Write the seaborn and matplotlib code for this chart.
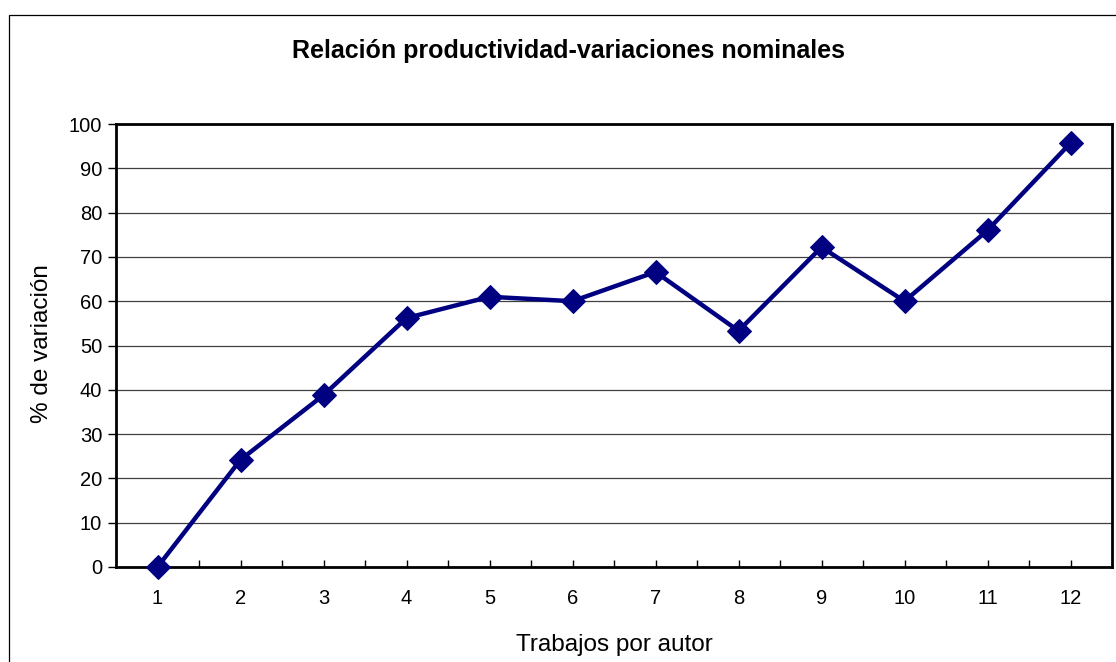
import numpy as np
import pandas as pd
import seaborn as sns
import matplotlib
import matplotlib.pyplot as plt
from matplotlib.patches import Rectangle
from matplotlib.ticker import MultipleLocator

matplotlib.use("Agg")

trabajos = [1, 2, 3, 4, 5, 6, 7, 8, 9, 10, 11, 12]
variacion = [0, 24.2, 38.8, 56.2, 61.0, 60.0, 66.6, 53.3, 72.2, 60.0, 76.0, 95.7]

df = pd.DataFrame({"Trabajos": trabajos, "Variacion": variacion})

sns.set_style("white")
plt.rcParams["font.family"] = ["Liberation Sans", "DejaVu Sans"]
plt.rcParams["text.color"] = "black"
plt.rcParams["axes.labelcolor"] = "black"

fig = plt.figure(figsize=(11.16, 6.62), dpi=100)
ax = fig.add_axes([116 / 1116, 1 - 567 / 662, (1112 - 116) / 1116, (567 - 124) / 662])

# outer chart frame (cut off at right/bottom like the original)
fig.patches.append(
    Rectangle((9 / 1116, -0.1), 1.2, 1 - 15 / 662 + 0.1,
              transform=fig.transFigure, fill=False, edgecolor="black", linewidth=0.9)
)

ax.set_ylim(0, 100)
ax.set_xlim(0.5, 12.5)
ax.yaxis.set_major_locator(MultipleLocator(10))
ax.grid(axis="y", color="#404040", linewidth=0.9)
ax.set_axisbelow(True)

sns.lineplot(data=df, x="Trabajos", y="Variacion", ax=ax, color="#000080",
             linewidth=3.2, marker="D", markersize=12, markeredgecolor="#000080",
             clip_on=False, zorder=5)

ax.set_xticks(trabajos)
ax.set_xticks([t + 0.5 for t in trabajos[:-1]], minor=True)
ax.tick_params(axis="x", which="both", direction="in", length=5, width=1,
               colors="black", labelsize=14.5, pad=16, bottom=True)
ax.tick_params(axis="y", direction="out", length=6, width=1, colors="black",
               labelsize=14.5, pad=4, left=True)

for side in ["left", "bottom", "top", "right"]:
    ax.spines[side].set_color("black")
    ax.spines[side].set_linewidth(2)

ax.set_xlabel("")
ax.set_ylabel("")
fig.text(614 / 1116, 1 - 645 / 662, "Trabajos por autor",
         ha="center", va="center", fontsize=17.5)
fig.text(42 / 1116, 1 - 344 / 662, "% de variación",
         ha="center", va="center", rotation=90, fontsize=17.5)
fig.text(568 / 1116, 1 - 51 / 662, "Relación productividad-variaciones nominales",
         ha="center", va="center", fontsize=18, fontweight="bold")

fig.savefig("out.png", dpi=100, facecolor="white")
